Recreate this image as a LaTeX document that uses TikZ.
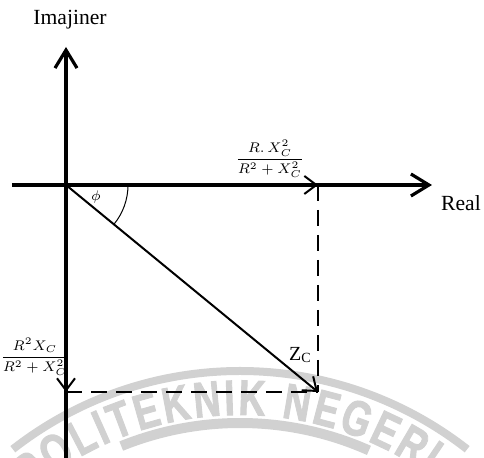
\documentclass[tikz,border=0pt]{standalone}
\usepackage{amsmath}
\usepackage{fontspec}
\setmainfont{Liberation Serif}
\newfontfamily\wmfont[FakeStretch=0.74, FakeBold=1.8]{Liberation Sans Bold}
\usepackage{xcolor}
\usepackage{tikz}
\usetikzlibrary{arrows.meta,decorations.text}

\definecolor{wmgray}{gray}{0.82}
\newcommand{\wmstyle}{\wmfont\fontsize{25}{25}\selectfont}

\begin{document}
\begin{tikzpicture}[
    x=0.5pt, y=-0.5pt,
    axis/.style={line width=1.6pt, -{Straight Barb[length=9pt, width=11pt]}},
    comp/.style={line width=1pt, -{Straight Barb[length=6pt, width=9pt]}},
    proj/.style={line width=1.2pt, dash pattern=on 8pt off 4.5pt},
    lbl/.style={font=\fontsize{10.8}{12}\selectfont, inner sep=0pt},
    frac/.style={font=\fontsize{6.8}{8}\selectfont, inner sep=0pt},
    band/.style={draw=wmgray, line width=4pt}
]
\useasboundingbox (0,0) rectangle (484,458);

% Watermark
\coordinate (wm) at (240,740);
\draw[band] ([shift={(-128:369)}]wm) arc[start angle=-128, end angle=-52, radius=369];
\draw[band, line width=5pt] ([shift={(-112:317)}]wm) arc[start angle=-112, end angle=-66, radius=317];
{\wmstyle
\path[decorate, decoration={text along path, text align=fit to path, text color=wmgray,
    text={POLITEKNIK NEGERI}}]
    ([shift={(-130:325)}]wm) arc[start angle=-130, end angle=-55, radius=325];
}

% Points of the diagram
\coordinate (O)      at (66,185);
\coordinate (Z)      at (318,392);
\coordinate (Zr)     at (318,185);
\coordinate (Zi)     at (66,392);
\coordinate (ytop)   at (66,47);
\coordinate (ybot)   at (66,462);
\coordinate (xleft)  at (12,185);
\coordinate (xright) at (432,185);

% Projections
\draw[proj] (Zr) -- (Z);
\draw[proj] (Zi) -- (Z);

% Axes
\draw[axis] (ybot) -- (ytop);
\draw[axis] (xleft) -- (xright);

% Components and impedance vector
\draw[comp] (O) -- (Zr);
\draw[comp] (O) -- (Zi);
\draw[comp] (O) -- (Z);
\draw[line width=0.5pt] ([shift={(0:62)}]O) arc[start angle=0, end angle=39.4, radius=62];

% Labels
\node[lbl] (imaj) at (70,20)  {Imajiner};
\node[lbl] (real) at (461,203) {Real};
\node[frac] (fxr) at (270,159) {$\dfrac{R.\,X_C^2}{R^2+X_C^2}$};
\node[frac] (fxi) at (35,357)  {$\dfrac{R^2X_C}{R^2+X_C^2}$};
\node[font=\fontsize{7}{8}\selectfont, inner sep=0pt] (phil) at (96,197) {$\phi$};
\node[font=\fontsize{10}{12}\selectfont, inner sep=0pt] (zcl) at (300,355)
    {Z\raisebox{-1.2pt}{\fontsize{7}{7}\selectfont C}};

\end{tikzpicture}
\end{document}
